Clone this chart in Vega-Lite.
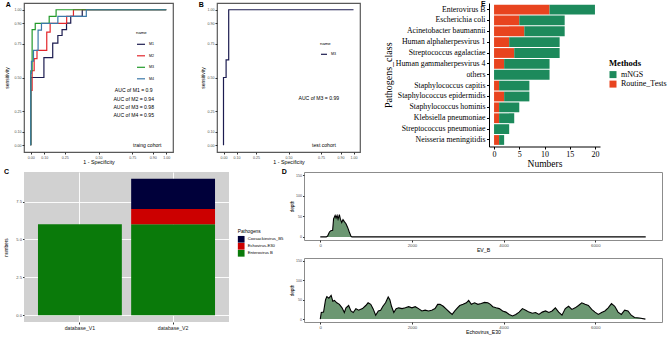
{
"$schema": "https://vega.github.io/schema/vega-lite/v6.json",
"padding": {"left": 3, "top": 0, "right": 0, "bottom": 0},
"autosize": {"type": "pad"},
"config": {
  "font": "Liberation Sans",
  "view": {"stroke": null},
  "axis": {"grid": false, "domain": false, "tickColor": "#333333", "tickSize": 2, "labelColor": "#4d4d4d", "titleColor": "#000000", "titleFontWeight": "normal", "labelPadding": 1, "titlePadding": 1},
  "legend": {"titleFontWeight": "normal", "titleColor": "#000000", "labelColor": "#000000"},
  "title": {"anchor": "start", "frame": "group", "fontWeight": "bold", "fontSize": 7, "color": "#000000"}
},
"spacing": -1,
"resolve": {"scale": {"color": "independent"}, "legend": {"color": "independent"}},
"vconcat": [
 {"spacing": 22, "resolve": {"scale": {"color": "independent"}, "legend": {"color": "independent"}}, "hconcat": [
  {"spacing": 24, "resolve": {"scale": {"color": "independent"}, "legend": {"color": "independent"}}, "hconcat": [
   {
    "title": {"text": "A", "dx": -18.3, "offset": -4.7},
    "width": 149, "height": 149,
    "view": {"stroke": "#595959", "strokeWidth": 1.2},
    "encoding": {
      "x": {"field": "fpr", "type": "quantitative", "scale": {"domain": [-0.05, 1.05], "nice": false, "zero": false},
            "axis": {"values": [0, 0.1, 0.25, 0.5, 0.75, 0.9, 1], "format": ".2f", "title": "1 - Specificity", "labelFontSize": 3.6, "titleFontSize": 5.3}},
      "y": {"field": "tpr", "type": "quantitative", "scale": {"domain": [-0.05, 1.05], "nice": false, "zero": false},
            "axis": {"values": [0, 0.1, 0.25, 0.5, 0.75, 0.9, 1], "format": ".2f", "title": "sensitivity", "labelFontSize": 3.6, "titleFontSize": 5, "titlePadding": 5}}
    },
    "layer": [
     {
      "data": {"values": [
        {"name": "M1", "i": 0, "fpr": 0, "tpr": 0}, {"name": "M1", "i": 1, "fpr": 0.097, "tpr": 0.5}, {"name": "M1", "i": 2, "fpr": 0.162, "tpr": 0.646}, {"name": "M1", "i": 3, "fpr": 0.2, "tpr": 0.754}, {"name": "M1", "i": 4, "fpr": 0.231, "tpr": 0.81}, {"name": "M1", "i": 5, "fpr": 0.264, "tpr": 0.853}, {"name": "M1", "i": 6, "fpr": 0.295, "tpr": 0.902}, {"name": "M1", "i": 7, "fpr": 0.38, "tpr": 0.951}, {"name": "M1", "i": 8, "fpr": 1, "tpr": 1},
        {"name": "M2", "i": 0, "fpr": 0, "tpr": 0}, {"name": "M2", "i": 1, "fpr": 0.01, "tpr": 0.405}, {"name": "M2", "i": 2, "fpr": 0.025, "tpr": 0.55}, {"name": "M2", "i": 3, "fpr": 0.046, "tpr": 0.64}, {"name": "M2", "i": 4, "fpr": 0.118, "tpr": 0.7}, {"name": "M2", "i": 5, "fpr": 0.143, "tpr": 0.835}, {"name": "M2", "i": 6, "fpr": 0.265, "tpr": 0.9}, {"name": "M2", "i": 7, "fpr": 0.315, "tpr": 0.951}, {"name": "M2", "i": 8, "fpr": 1, "tpr": 1},
        {"name": "M3", "i": 0, "fpr": 0, "tpr": 0}, {"name": "M3", "i": 1, "fpr": 0.01, "tpr": 0.55}, {"name": "M3", "i": 2, "fpr": 0.033, "tpr": 0.853}, {"name": "M3", "i": 3, "fpr": 0.136, "tpr": 0.9}, {"name": "M3", "i": 4, "fpr": 0.187, "tpr": 0.951}, {"name": "M3", "i": 5, "fpr": 1, "tpr": 1},
        {"name": "M4", "i": 0, "fpr": 0, "tpr": 0}, {"name": "M4", "i": 1, "fpr": 0.005, "tpr": 0.53}, {"name": "M4", "i": 2, "fpr": 0.02, "tpr": 0.62}, {"name": "M4", "i": 3, "fpr": 0.054, "tpr": 0.7}, {"name": "M4", "i": 4, "fpr": 0.079, "tpr": 0.85}, {"name": "M4", "i": 5, "fpr": 0.2, "tpr": 0.9}, {"name": "M4", "i": 6, "fpr": 0.41, "tpr": 0.951}, {"name": "M4", "i": 7, "fpr": 1, "tpr": 1}
      ]},
      "mark": {"type": "line", "interpolate": "step-before", "strokeWidth": 1.2},
      "encoding": {
        "color": {"field": "name", "type": "nominal", "scale": {"domain": ["M1", "M2", "M3", "M4"], "range": ["#1c1c50", "#e3262b", "#239a2b", "#3b78a8"]},
                  "legend": {"title": "name", "orient": "none", "legendX": 112, "legendY": 28, "titleFontSize": 4.3, "labelFontSize": 3.6, "symbolSize": 64, "symbolStrokeWidth": 1.2, "rowPadding": 3.5, "titlePadding": 4, "labelOffset": 3}},
        "order": {"field": "i", "type": "quantitative"}
      }
     },
     {
      "data": {"values": [
        {"label": "AUC of M1 = 0.9", "fpr": 0.76, "tpr": 0.405},
        {"label": "AUC of M2 = 0.94", "fpr": 0.76, "tpr": 0.344},
        {"label": "AUC of M3 = 0.98", "fpr": 0.76, "tpr": 0.282},
        {"label": "AUC of M4 = 0.95", "fpr": 0.76, "tpr": 0.221},
        {"label": "traing cohort", "fpr": 0.86, "tpr": 0.0}
      ]},
      "mark": {"type": "text", "fontSize": 5.1, "align": "center", "baseline": "middle", "color": "#000000"},
      "encoding": {"text": {"field": "label", "type": "nominal"}}
     }
    ]
   },
   {
    "title": {"text": "B", "dx": -18.3, "offset": -4.7},
    "width": 143, "height": 149,
    "view": {"stroke": "#595959", "strokeWidth": 1.2},
    "encoding": {
      "x": {"field": "fpr", "type": "quantitative", "scale": {"domain": [-0.05, 1.05], "nice": false, "zero": false},
            "axis": {"values": [0, 0.1, 0.25, 0.5, 0.75, 0.9, 1], "format": ".2f", "title": "1 - Specificity", "labelFontSize": 3.6, "titleFontSize": 5.3}},
      "y": {"field": "tpr", "type": "quantitative", "scale": {"domain": [-0.05, 1.05], "nice": false, "zero": false},
            "axis": {"values": [0, 0.1, 0.25, 0.5, 0.75, 0.9, 1], "format": ".2f", "title": "sensitivity", "labelFontSize": 3.6, "titleFontSize": 5, "titlePadding": 1.5}}
    },
    "layer": [
     {
      "data": {"values": [
        {"name": "M3", "i": 0, "fpr": 0, "tpr": 0}, {"name": "M3", "i": 1, "fpr": 0.02, "tpr": 0.5}, {"name": "M3", "i": 2, "fpr": 0.04, "tpr": 0.63}, {"name": "M3", "i": 3, "fpr": 1, "tpr": 1}
      ]},
      "mark": {"type": "line", "interpolate": "step-before", "strokeWidth": 1.2},
      "encoding": {
        "color": {"field": "name", "type": "nominal", "scale": {"domain": ["M3"], "range": ["#1c1c50"]},
                  "legend": {"title": "name", "orient": "none", "legendX": 103, "legendY": 39, "titleFontSize": 4.3, "labelFontSize": 3.6, "symbolSize": 36, "symbolStrokeWidth": 1.2, "titlePadding": 4, "labelOffset": 3}},
        "order": {"field": "i", "type": "quantitative"}
      }
     },
     {
      "data": {"values": [
        {"label": "AUC of M3 = 0.99", "fpr": 0.733, "tpr": 0.35},
        {"label": "test cohort", "fpr": 0.773, "tpr": 0.0}
      ]},
      "mark": {"type": "text", "fontSize": 5.1, "align": "center", "baseline": "middle", "color": "#000000"},
      "encoding": {"text": {"field": "label", "type": "nominal"}}
     }
    ]
   }
  ]},
  {
   "title": {"text": "E", "dx": -8, "offset": -4},
   "width": 111, "height": 143.5,
   "data": {"values": [
     {"pathogen": "Enterovirus B", "method": "Routine_Tests", "n": 11}, {"pathogen": "Enterovirus B", "method": "mNGS", "n": 9},
     {"pathogen": "Escherichia coli", "method": "Routine_Tests", "n": 5}, {"pathogen": "Escherichia coli", "method": "mNGS", "n": 9},
     {"pathogen": "Acinetobacter baumannii", "method": "Routine_Tests", "n": 6}, {"pathogen": "Acinetobacter baumannii", "method": "mNGS", "n": 8},
     {"pathogen": "Human alphaherpesvirus 1", "method": "Routine_Tests", "n": 3}, {"pathogen": "Human alphaherpesvirus 1", "method": "mNGS", "n": 10},
     {"pathogen": "Streptococcus agalactiae", "method": "Routine_Tests", "n": 4}, {"pathogen": "Streptococcus agalactiae", "method": "mNGS", "n": 9},
     {"pathogen": "Human gammaherpesvirus 4", "method": "Routine_Tests", "n": 2}, {"pathogen": "Human gammaherpesvirus 4", "method": "mNGS", "n": 9},
     {"pathogen": "others", "method": "Routine_Tests", "n": 0}, {"pathogen": "others", "method": "mNGS", "n": 11},
     {"pathogen": "Staphylococcus capitis", "method": "Routine_Tests", "n": 1}, {"pathogen": "Staphylococcus capitis", "method": "mNGS", "n": 6},
     {"pathogen": "Staphylococcus epidermidis", "method": "Routine_Tests", "n": 2}, {"pathogen": "Staphylococcus epidermidis", "method": "mNGS", "n": 5},
     {"pathogen": "Staphylococcus hominis", "method": "Routine_Tests", "n": 1}, {"pathogen": "Staphylococcus hominis", "method": "mNGS", "n": 4},
     {"pathogen": "Klebsiella pneumoniae", "method": "Routine_Tests", "n": 1}, {"pathogen": "Klebsiella pneumoniae", "method": "mNGS", "n": 3},
     {"pathogen": "Streptococcus pneumoniae", "method": "Routine_Tests", "n": 0}, {"pathogen": "Streptococcus pneumoniae", "method": "mNGS", "n": 3},
     {"pathogen": "Neisseria meningitidis", "method": "Routine_Tests", "n": 1}, {"pathogen": "Neisseria meningitidis", "method": "mNGS", "n": 1}
   ]},
   "mark": {"type": "bar"},
   "encoding": {
     "y": {"field": "pathogen", "type": "nominal", "sort": null, "scale": {"paddingInner": 0.1, "paddingOuter": 0.15},
           "axis": {"title": "Pathogens_class", "labelFont": "Liberation Serif", "labelFontSize": 7.8, "labelColor": "#000000", "titleFont": "Liberation Serif", "titleFontSize": 10, "domain": true, "domainColor": "#000000", "domainWidth": 1, "tickColor": "#000000", "tickSize": 2.5, "labelPadding": 1.5, "titlePadding": 2}},
     "x": {"field": "n", "type": "quantitative", "stack": "zero", "scale": {"domain": [-1, 21], "nice": false, "zero": false},
           "axis": {"values": [0, 5, 10, 15, 20], "title": "Numbers", "labelFont": "Liberation Serif", "labelFontSize": 8, "labelColor": "#000000", "titleFont": "Liberation Serif", "titleFontSize": 9.5, "domain": true, "domainColor": "#000000", "domainWidth": 1, "tickColor": "#000000", "tickSize": 2.5, "labelPadding": 1, "titlePadding": 0}},
     "color": {"field": "method", "type": "nominal", "scale": {"domain": ["mNGS", "Routine_Tests"], "range": ["#1d8a5c", "#e8441f"]},
               "legend": {"title": "Methods", "orient": "none", "legendX": 120, "legendY": 56, "titleFont": "Liberation Serif", "titleFontSize": 8.6, "titleFontWeight": "bold", "labelFont": "Liberation Serif", "labelFontSize": 8, "symbolType": "square", "symbolSize": 49, "symbolStrokeWidth": 0, "rowPadding": 1.5, "titlePadding": 3, "labelOffset": 4}},
     "order": {"field": "method", "sort": "ascending"}
   }
  }
 ]},
 {"spacing": -3, "resolve": {"scale": {"color": "independent"}, "legend": {"color": "independent"}}, "hconcat": [
  {
   "title": {"text": "C", "dx": -20, "offset": -2.7},
   "width": 205, "height": 150,
   "view": {"fill": "#d1d1d1", "stroke": null},
   "data": {"values": [
     {"db": "database_V1", "pathogen": "Enterovirus B", "n": 6},
     {"db": "database_V2", "pathogen": "Enterovirus B", "n": 6},
     {"db": "database_V2", "pathogen": "Echovirus-E30", "n": 1},
     {"db": "database_V2", "pathogen": "Coxsackievirus_B5", "n": 2}
   ]},
   "mark": "bar",
   "encoding": {
     "x": {"field": "db", "type": "nominal", "scale": {"paddingInner": 0.1, "paddingOuter": 0.15},
           "axis": {"title": null, "labelAngle": 0, "labelFontSize": 5.2, "labelColor": "#1a1a1a", "grid": true, "gridColor": "#ffffff", "gridWidth": 0.9, "bandPosition": 0.5}},
     "y": {"field": "n", "type": "quantitative", "stack": "zero", "scale": {"domain": [-0.45, 9.45], "nice": false, "zero": false},
        "axis": {"values": [0, 2.5, 5, 7.5], "format": ".1f", "title": "numbers", "labelFontSize": 4.1, "titleFontSize": 4.7, "grid": true, "gridColor": "#ffffff", "gridWidth": 0.9, "tickSize": 1.5, "titlePadding": 7}},
     "color": {"field": "pathogen", "type": "nominal", "scale": {"domain": ["Coxsackievirus_B5", "Echovirus-E30", "Enterovirus B"], "range": ["#00003a", "#cc0000", "#0a7a0a"]},
               "legend": {"title": "Pathogens", "orient": "none", "legendX": 213.7, "legendY": 57, "titleFontSize": 4.8, "labelFontSize": 4.2, "symbolType": "square", "symbolSize": 45, "symbolStrokeWidth": 0, "rowPadding": 0, "titlePadding": 2, "labelOffset": 3}},
     "order": {"field": "pathogen", "sort": "descending"}
   }
  },
  {"spacing": 4, "vconcat": [
   {
    "title": {"text": "D", "dx": -22.3, "offset": -2.5},
    "width": 358, "height": 68,
    "view": {"stroke": "#8c8c8c", "strokeWidth": 1},
    "data": {"values": [
      {"pos": 0, "depth": 0}, {"pos": 130, "depth": 0}, {"pos": 160, "depth": 2}, {"pos": 200, "depth": 12}, {"pos": 230, "depth": 15}, {"pos": 270, "depth": 16}, {"pos": 290, "depth": 44}, {"pos": 324, "depth": 52}, {"pos": 345, "depth": 46}, {"pos": 367, "depth": 52}, {"pos": 388, "depth": 43}, {"pos": 417, "depth": 54}, {"pos": 439, "depth": 43}, {"pos": 468, "depth": 35}, {"pos": 496, "depth": 42}, {"pos": 525, "depth": 37}, {"pos": 561, "depth": 32}, {"pos": 597, "depth": 23}, {"pos": 633, "depth": 12}, {"pos": 669, "depth": 2}, {"pos": 690, "depth": 0}, {"pos": 7100, "depth": 0}
    ]},
    "mark": {"type": "area", "color": "#2e6b36", "line": {"color": "#000000", "strokeWidth": 1.1}},
    "encoding": {
      "x": {"field": "pos", "type": "quantitative", "scale": {"domain": [-355, 7455], "nice": false, "zero": false},
            "axis": {"values": [0, 2000, 4000, 6000], "format": "d", "title": "EV_B", "labelFontSize": 4.3, "titleFontSize": 5.2, "titlePadding": 0}},
      "y": {"field": "depth", "type": "quantitative", "scale": {"domain": [-7.5, 157.5], "nice": false, "zero": false},
            "axis": {"values": [0, 50, 100, 150], "title": "depth", "labelFontSize": 3.6, "titleFontSize": 4.7, "tickSize": 1.5}}
    }
   },
   {
    "width": 358, "height": 64,
    "view": {"stroke": "#8c8c8c", "strokeWidth": 1},
    "data": {"values": [
      {"pos": 0, "depth": 0}, {"pos": 22, "depth": 17}, {"pos": 72, "depth": 18}, {"pos": 115, "depth": 50}, {"pos": 144, "depth": 58}, {"pos": 187, "depth": 54}, {"pos": 237, "depth": 61}, {"pos": 273, "depth": 46}, {"pos": 309, "depth": 48}, {"pos": 360, "depth": 42}, {"pos": 417, "depth": 38}, {"pos": 475, "depth": 29}, {"pos": 525, "depth": 17}, {"pos": 561, "depth": 29}, {"pos": 619, "depth": 35}, {"pos": 669, "depth": 21}, {"pos": 719, "depth": 17}, {"pos": 777, "depth": 27}, {"pos": 835, "depth": 23}, {"pos": 921, "depth": 27}, {"pos": 993, "depth": 35}, {"pos": 1043, "depth": 42}, {"pos": 1101, "depth": 38}, {"pos": 1151, "depth": 27}, {"pos": 1209, "depth": 10}, {"pos": 1266, "depth": 21}, {"pos": 1317, "depth": 23}, {"pos": 1367, "depth": 33}, {"pos": 1424, "depth": 42}, {"pos": 1482, "depth": 57}, {"pos": 1518, "depth": 50}, {"pos": 1554, "depth": 33}, {"pos": 1604, "depth": 17}, {"pos": 1655, "depth": 27}, {"pos": 1712, "depth": 29}, {"pos": 1784, "depth": 27}, {"pos": 1856, "depth": 29}, {"pos": 1928, "depth": 32}, {"pos": 2000, "depth": 29}, {"pos": 2072, "depth": 32}, {"pos": 2144, "depth": 27}, {"pos": 2216, "depth": 21}, {"pos": 2288, "depth": 23}, {"pos": 2360, "depth": 21}, {"pos": 2432, "depth": 23}, {"pos": 2504, "depth": 27}, {"pos": 2561, "depth": 38}, {"pos": 2612, "depth": 38}, {"pos": 2683, "depth": 33}, {"pos": 2755, "depth": 25}, {"pos": 2827, "depth": 17}, {"pos": 2878, "depth": 12}, {"pos": 2935, "depth": 21}, {"pos": 2993, "depth": 29}, {"pos": 3043, "depth": 35}, {"pos": 3115, "depth": 38}, {"pos": 3187, "depth": 42}, {"pos": 3237, "depth": 48}, {"pos": 3295, "depth": 38}, {"pos": 3367, "depth": 42}, {"pos": 3439, "depth": 38}, {"pos": 3511, "depth": 40}, {"pos": 3583, "depth": 43}, {"pos": 3655, "depth": 42}, {"pos": 3712, "depth": 38}, {"pos": 3763, "depth": 32}, {"pos": 3835, "depth": 29}, {"pos": 3906, "depth": 27}, {"pos": 3978, "depth": 21}, {"pos": 4050, "depth": 18}, {"pos": 4122, "depth": 12}, {"pos": 4194, "depth": 8}, {"pos": 4266, "depth": 12}, {"pos": 4338, "depth": 18}, {"pos": 4410, "depth": 27}, {"pos": 4482, "depth": 23}, {"pos": 4554, "depth": 18}, {"pos": 4626, "depth": 15}, {"pos": 4698, "depth": 17}, {"pos": 4770, "depth": 12}, {"pos": 4842, "depth": 18}, {"pos": 4914, "depth": 21}, {"pos": 4986, "depth": 17}, {"pos": 5058, "depth": 21}, {"pos": 5129, "depth": 29}, {"pos": 5201, "depth": 18}, {"pos": 5273, "depth": 10}, {"pos": 5345, "depth": 27}, {"pos": 5417, "depth": 33}, {"pos": 5489, "depth": 25}, {"pos": 5561, "depth": 29}, {"pos": 5633, "depth": 35}, {"pos": 5705, "depth": 42}, {"pos": 5777, "depth": 38}, {"pos": 5849, "depth": 35}, {"pos": 5921, "depth": 25}, {"pos": 5993, "depth": 18}, {"pos": 6065, "depth": 12}, {"pos": 6137, "depth": 17}, {"pos": 6209, "depth": 21}, {"pos": 6281, "depth": 29}, {"pos": 6353, "depth": 40}, {"pos": 6424, "depth": 33}, {"pos": 6496, "depth": 18}, {"pos": 6568, "depth": 12}, {"pos": 6640, "depth": 23}, {"pos": 6712, "depth": 21}, {"pos": 6784, "depth": 10}, {"pos": 6856, "depth": 4}, {"pos": 6964, "depth": 3}, {"pos": 7093, "depth": 0}
    ]},
    "mark": {"type": "area", "color": "#2e6b36", "line": {"color": "#000000", "strokeWidth": 1.1}},
    "encoding": {
      "x": {"field": "pos", "type": "quantitative", "scale": {"domain": [-355, 7455], "nice": false, "zero": false},
            "axis": {"values": [0, 2000, 4000, 6000], "format": "d", "title": "Echovirus_E30", "labelFontSize": 4.3, "titleFontSize": 5.2, "titlePadding": 0}},
      "y": {"field": "depth", "type": "quantitative", "scale": {"domain": [-7.5, 157.5], "nice": false, "zero": false},
            "axis": {"values": [0, 50, 100, 150], "title": "depth", "labelFontSize": 3.6, "titleFontSize": 4.7, "tickSize": 1.5}}
    }
   }
  ]}
 ]}
]
}
